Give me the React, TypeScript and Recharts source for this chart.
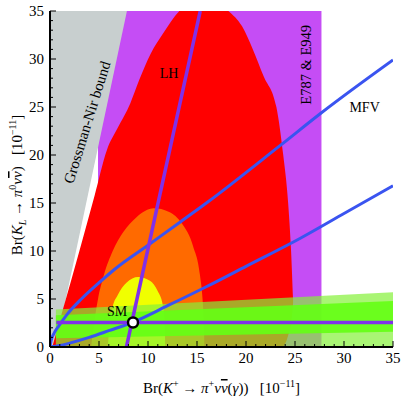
import React from 'react';
import { ComposedChart, Area, Line, Scatter, XAxis, YAxis, ReferenceDot } from 'recharts';

// shaded regions, rows are [x, low, high]
const GROSSMAN_NIR = [
    [0, 0, 35],
    [0.58, 0, 35],
    [7.85, 35, 35],
];
const E949_BAND = [
    [4.9, 0, 35],
    [27.7, 0, 35],
];
const RED_REGION = [
    [0.23, 0, 0],
    [1.3, 0, 3.85],
    [3.0, 0, 10.0],
    [4.56, 0, 15.8],
    [5.8, 0, 20.5],
    [6.9, 0, 22.8],
    [8.2, 0, 25.4],
    [9.1, 0, 27.8],
    [10.3, 0, 30.6],
    [11.5, 0, 32.6],
    [13.2, 0, 35.0],
    [15.7, 0, 36.4],
    [18.2, 0, 35.0],
    [19.6, 0, 33.4],
    [20.7, 0, 31.0],
    [21.8, 0, 28.2],
    [23.1, 0, 25.0],
    [23.8, 0.1, 20.0],
    [24.3, 1.2, 15.0],
    [24.6, 2.5, 10.0],
    [24.8, 4.5, 5.0],
];
const ORANGE_REGION = [
    [4.2, 0, 0],
    [4.5, 0, 2.5],
    [4.9, 0, 5.0],
    [5.5, 0, 7.5],
    [6.4, 0, 10.0],
    [7.5, 0, 12.0],
    [8.8, 0, 13.5],
    [10.6, 0, 14.45],
    [12.1, 0, 14.1],
    [13.5, 0, 12.8],
    [14.6, 0, 10.5],
    [15.3, 0, 7.5],
    [15.6, 0, 4.5],
    [15.72, 0, 2.0],
    [15.75, 0, 0],
];
const YELLOW_REGION = [
    [5.9, 0, 0],
    [6.1, 0, 2.5],
    [6.4, 0, 4.2],
    [6.9, 0, 5.4],
    [7.8, 0, 6.7],
    [9.0, 0, 7.3],
    [10.2, 0, 6.9],
    [11.0, 0, 5.8],
    [11.5, 0, 4.4],
    [11.72, 0, 2.0],
    [11.75, 0, 0],
];
const KL_OUTER = [
    [0.6, 0, 3.9],
    [35, 0, 5.7],
];
const KL_INNER = [
    [0.6, 0.9, 3.3],
    [35, 1.6, 4.8],
];

// curves, rows are [x, y]
const MFV_UPPER = [
    [0, 0], [0.1, 0.6], [0.4, 1.4], [0.9, 2.2], [1.67, 3.3], [3.2, 5.0], [4.9, 6.6],
    [6.6, 8.1], [10, 10.6], [13.4, 13.1], [16.1, 15.1], [23.5, 21], [27.7, 24.4], [35, 29.9],
];
const MFV_LOWER = [
    [0, 0], [1, 0.15], [2, 0.4], [4, 1.0], [6, 1.7], [8.5, 2.6], [12, 4.3],
    [16, 6.3], [20, 8.4], [25.5, 11.3], [30, 13.9], [35, 16.8],
];
const LH_LINE = [
    [7.8, 0],
    [15.33, 35],
];
const SM_KL_LINE = [
    [0.65, 2.55],
    [35, 2.55],
];
const SM_POINT = [[8.47, 2.55]];

const TICKS = [
    0, 1, 2, 3, 4, 5, 6, 7, 8, 9, 10, 11, 12, 13, 14, 15, 16, 17, 18, 19, 20, 21, 22, 23, 24, 25,
    26, 27, 28, 29, 30, 31, 32, 33, 34, 35,
];

const SERIF = '"Liberation Serif", "DejaVu Serif", serif';

const toRange = (rows: number[][]) => rows.map(([x, lo, hi]) => ({ x, r: [lo, hi] }));
const toPts = (rows: number[][]) => rows.map(([x, y]) => ({ x, y }));

const tickLen = (v: number) => (v % 5 === 0 ? 6 : 3);

const BottomTick = ({ x, y, payload }: any) => {
    const v = payload.value;
    return (
        <g>
            <line x1={x} x2={x} y1={y} y2={y - tickLen(v)} stroke="#000" />
            {v % 5 === 0 && (
                <text x={x} y={y + 16} textAnchor="middle" fontSize={15} fontFamily={SERIF} fill="#000">
                    {v}
                </text>
            )}
        </g>
    );
};
const TopTick = ({ x, y, payload }: any) => (
    <line x1={x} x2={x} y1={y} y2={y + tickLen(payload.value)} stroke="#000" />
);
const LeftTick = ({ x, y, payload }: any) => {
    const v = payload.value;
    return (
        <g>
            <line x1={x} x2={x + tickLen(v)} y1={y} y2={y} stroke="#000" />
            {v % 5 === 0 && (
                <text x={x - 6} y={y + 5} textAnchor="end" fontSize={15} fontFamily={SERIF} fill="#000">
                    {v}
                </text>
            )}
        </g>
    );
};
const RightTick = ({ x, y, payload }: any) => (
    <line x1={x} x2={x - tickLen(payload.value)} y1={y} y2={y} stroke="#000" />
);

const NuBar = () => (
    <tspan fontStyle="italic" style={{ textDecoration: 'overline' }}>
        ν
    </tspan>
);

const XTitle = ({ viewBox }: any) => (
    <text
        x={viewBox.x + viewBox.width / 2}
        y={viewBox.y + 46}
        textAnchor="middle"
        fontSize={15}
        fontFamily={SERIF}
        fill="#000"
    >
        Br(<tspan fontStyle="italic">K</tspan>
        <tspan dy={-6} fontSize={10}>+</tspan>
        <tspan dy={6}> → </tspan>
        <tspan fontStyle="italic">π</tspan>
        <tspan dy={-6} fontSize={10}>+</tspan>
        <tspan dy={6} fontStyle="italic">ν</tspan>
        <NuBar />
        <tspan>(</tspan>
        <tspan fontStyle="italic">γ</tspan>
        <tspan>)){'\u00a0\u00a0\u00a0'}[10</tspan>
        <tspan dy={-6} fontSize={10}>−11</tspan>
        <tspan dy={6}>]</tspan>
    </text>
);

const YTitle = ({ viewBox }: any) => {
    const cx = viewBox.x + 14;
    const cy = viewBox.y + viewBox.height / 2 + 6;
    return (
        <text
            x={cx}
            y={cy}
            transform={`rotate(-90 ${cx} ${cy})`}
            textAnchor="middle"
            fontSize={15}
            fontFamily={SERIF}
            fill="#000"
        >
            Br(<tspan fontStyle="italic">K</tspan>
            <tspan dy={4} fontSize={10} fontStyle="italic">L</tspan>
            <tspan dy={-4}> → </tspan>
            <tspan fontStyle="italic">π</tspan>
            <tspan dy={-6} fontSize={10}>0</tspan>
            <tspan dy={6} fontStyle="italic">ν</tspan>
            <NuBar />
            <tspan>){'\u00a0\u00a0\u00a0'}[10</tspan>
            <tspan dy={-6} fontSize={10}>−11</tspan>
            <tspan dy={6}>]</tspan>
        </text>
    );
};

const makeLabel = (text: string, angle = 0, size = 14) => (p: any) => {
    const { x, y } = p.viewBox;
    return (
        <text
            x={x}
            y={y}
            transform={angle ? `rotate(${angle} ${x} ${y})` : undefined}
            textAnchor="middle"
            dominantBaseline="central"
            fontSize={size}
            fontFamily={SERIF}
            fill="#000"
        >
            {text}
        </text>
    );
};

const SmDot = ({ cx, cy }: any) => <circle cx={cx} cy={cy} r={5} fill="#fff" stroke="#000" strokeWidth={2.5} />;

const LABELS: [string, number, number, number, number][] = [
    ['LH', 12.14, 28.54, 0, 14],
    ['SM', 6.84, 3.65, 0, 14],
    ['MFV', 32.1, 24.9, 0, 14],
    ['E787 & E949', 26.17, 29.4, -90, 14.5],
    ['Grossman-Nir bound', 3.78, 23.4, -72.8, 15],
];

export default function App() {
    const area = (rows: number[][], fill: string, opacity = 1, type: any = 'monotone') => (
        <Area
            data={toRange(rows)}
            dataKey="r"
            type={type}
            fill={fill}
            fillOpacity={opacity}
            stroke="none"
            isAnimationActive={false}
            dot={false}
            activeDot={false}
        />
    );
    return (
        <div style={{ position: 'absolute', left: 0, top: 0, width: 405, height: 399 }}>
            <ComposedChart width={405} height={399} margin={{ top: 11, right: 12, bottom: 8, left: 8 }}>
                <XAxis
                    dataKey="x"
                    type="number"
                    domain={[0, 35]}
                    allowDataOverflow
                    ticks={TICKS}
                    interval={0}
                    tickSize={0}
                    tickMargin={0}
                    tickLine={false}
                    tick={BottomTick}
                    axisLine={{ stroke: '#000', strokeWidth: 2 }}
                    height={44}
                    label={<XTitle />}
                />
                <XAxis
                    xAxisId="top"
                    orientation="top"
                    dataKey="x"
                    type="number"
                    domain={[0, 35]}
                    allowDataOverflow
                    ticks={TICKS}
                    interval={0}
                    tickSize={0}
                    tickMargin={0}
                    tickLine={false}
                    tick={TopTick}
                    axisLine={{ stroke: '#000', strokeWidth: 2 }}
                    height={0}
                />
                <YAxis
                    type="number"
                    domain={[0, 35]}
                    allowDataOverflow
                    ticks={TICKS}
                    interval={0}
                    tickSize={0}
                    tickMargin={0}
                    tickLine={false}
                    tick={LeftTick}
                    axisLine={{ stroke: '#000', strokeWidth: 2 }}
                    width={42}
                    label={<YTitle />}
                />
                <YAxis
                    yAxisId="right"
                    orientation="right"
                    type="number"
                    domain={[0, 35]}
                    allowDataOverflow
                    ticks={TICKS}
                    interval={0}
                    tickSize={0}
                    tickMargin={0}
                    tickLine={false}
                    tick={RightTick}
                    axisLine={{ stroke: '#000', strokeWidth: 2 }}
                    width={0}
                />

                {area(E949_BAND, '#c54df5', 1, 'linear')}
                {area(GROSSMAN_NIR, '#c8cfcf', 1, 'linear')}
                {area(RED_REGION, '#ff0000')}
                {area(ORANGE_REGION, '#ff6a00')}
                {area(YELLOW_REGION, '#f0ff00')}
                {area(KL_OUTER, '#84f139', 0.7, 'linear')}
                {area(KL_INNER, '#64ff14', 0.9, 'linear')}

                <Line data={toPts(MFV_UPPER)} dataKey="y" type="monotone" stroke="#3a54f0" strokeWidth={3} dot={false} isAnimationActive={false} />
                <Line data={toPts(MFV_LOWER)} dataKey="y" type="monotone" stroke="#3a54f0" strokeWidth={3} dot={false} isAnimationActive={false} />
                <Line data={toPts(LH_LINE)} dataKey="y" type="linear" stroke="#8030e8" strokeWidth={3.5} dot={false} isAnimationActive={false} />
                <Line data={toPts(SM_KL_LINE)} dataKey="y" type="linear" stroke="#8030e8" strokeWidth={3.5} dot={false} isAnimationActive={false} />
                <Scatter data={toPts(SM_POINT)} dataKey="y" shape={<SmDot />} isAnimationActive={false} />

                {LABELS.map(([text, x, y, angle, size]) => (
                    <ReferenceDot key={text} x={x} y={y} r={0} stroke="none" fill="none" label={makeLabel(text, angle, size)} />
                ))}
            </ComposedChart>
        </div>
    );
}
